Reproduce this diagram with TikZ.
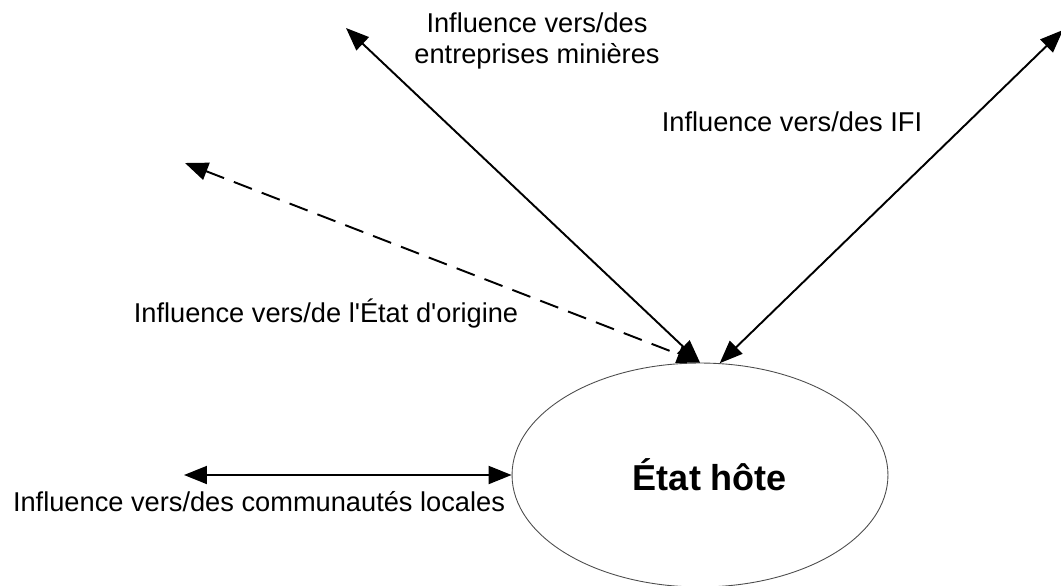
\documentclass[tikz,border=0pt]{standalone}
\usepackage{fontspec}
\setmainfont{Liberation Sans}
\usepackage{tikz}
\usetikzlibrary{arrows.meta, positioning, shapes.geometric}

\begin{document}
\begin{tikzpicture}[x=0.02cm, y=-0.02cm,
    every node/.style={font=\fontsize{15.5}{17.5}\selectfont},
    influence/.style={{Triangle[length=4.6mm, width=3.6mm]}-{Triangle[length=4.6mm, width=3.6mm]},
      line width=1.1pt, black},
    etatnode/.style={ellipse, draw=black!70, line width=0.5pt,
      minimum width=7.52cm, minimum height=4.48cm, inner sep=0pt}]
  \useasboundingbox (0,0) rectangle (1061,585);

  % Host state ellipse -----------------------------------------------------
  \node[etatnode] (etat) at (700,475)
    {\hspace*{0.4cm}\fontsize{20.5}{23}\selectfont\textbf{État hôte}};

  % Free ends of the influence arrows --------------------------------------
  \coordinate (mines) at (346,28);
  \coordinate (ifi) at (1063,30);
  \coordinate (origine) at (185,163);
  \coordinate (communautes) at (184,475);

  % Influence arrows -------------------------------------------------------
  \draw[influence] (mines) -- (etat.north);
  \draw[influence] (ifi) -- (etat.80);
  \draw[influence, dash pattern=on 11pt off 6pt] (origine) -- (etat.north);
  \draw[influence] (communautes) -- (etat.west);

  % Labels -----------------------------------------------------------------
  \node[align=center, font=\fontsize{15.5}{17.6}\selectfont] (lblmines) at (537,41)
    {Influence vers/des\\entreprises minières};
  \node (lblifi) at (792,122) {Influence vers/des IFI};
  \node (lblorigine) at (326,314)
    {Influence vers/de l\textquotesingle État d\textquotesingle origine};
  \node (lblcommunautes) at (259,502) {Influence vers/des communautés locales};

\end{tikzpicture}
\end{document}
